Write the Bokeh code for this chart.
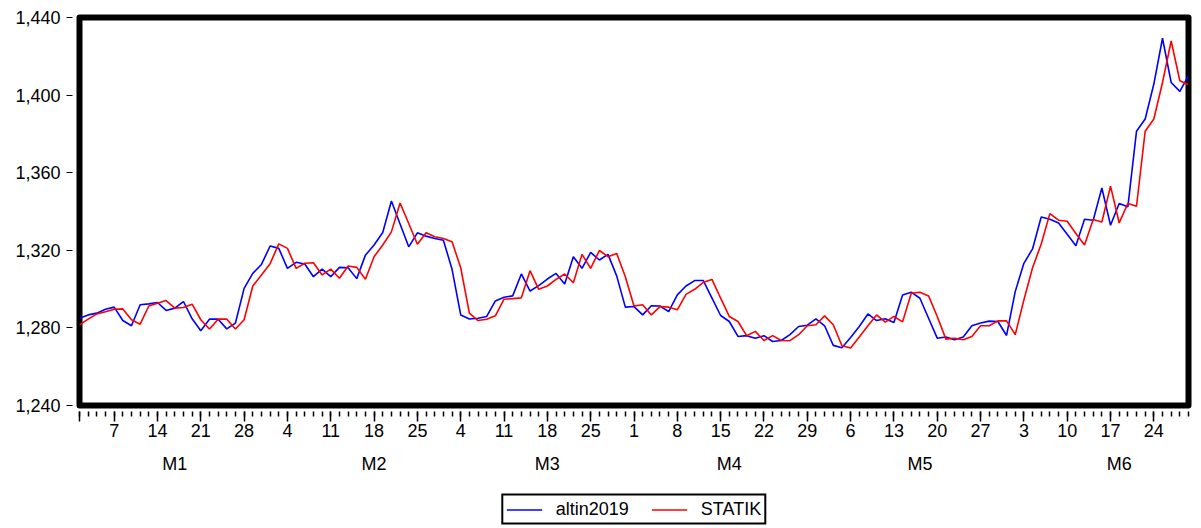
import pandas as pd
from bokeh.plotting import figure
from bokeh.layouts import column
from bokeh.models import (Range1d, FixedTicker, LinearAxis, NumeralTickFormatter,
                          Legend, LegendItem)
from bokeh.embed import file_html
from bokeh.resources import INLINE

# ---------------- data ----------------
dates = pd.bdate_range("2019-01-01", "2019-06-28")

altin2019 = [1285.0, 1286.7, 1287.6, 1289.6, 1290.7, 1283.8, 1281.1, 1291.9, 1292.4, 1293.1,
             1289.0, 1290.2, 1293.6, 1284.7, 1278.5, 1284.5, 1284.5, 1279.5, 1282.5, 1300.4,
             1308.1, 1312.7, 1322.2, 1321.0, 1310.7, 1313.8, 1312.9, 1306.4, 1310.3, 1306.4,
             1311.2, 1311.0, 1305.4, 1317.5, 1322.7, 1329.2, 1345.4, 1333.6, 1321.8, 1329.0,
             1327.3, 1326.1, 1325.2, 1310.2, 1286.7, 1284.6, 1285.0, 1285.9, 1293.9, 1295.8,
             1296.5, 1307.8, 1299.0, 1301.8, 1305.2, 1308.1, 1302.6, 1316.7, 1310.7, 1318.9,
             1315.0, 1317.9, 1306.8, 1290.7, 1291.0, 1286.7, 1291.4, 1291.3, 1288.4, 1297.0,
             1301.6, 1304.4, 1304.4, 1295.3, 1286.4, 1283.3, 1275.6, 1276.0, 1274.7, 1276.0,
             1273.0, 1273.5, 1276.5, 1280.7, 1281.4, 1284.7, 1281.1, 1271.0, 1269.8, 1275.0,
             1280.7, 1287.2, 1283.8, 1284.7, 1282.8, 1297.0, 1298.4, 1295.3, 1285.0, 1274.7,
             1275.3, 1273.9, 1275.3, 1281.1, 1282.5, 1283.5, 1283.3, 1276.1, 1298.7, 1313.3,
             1320.7, 1337.2, 1336.0, 1334.1, 1328.3, 1322.3, 1336.0, 1335.5, 1352.1, 1332.9,
             1344.1, 1342.4, 1381.4, 1387.7, 1405.7, 1429.3, 1406.5, 1401.9, 1410.0]

statik = [1281.6, 1284.5, 1287.2, 1288.3, 1289.6, 1289.8, 1284.2, 1281.9, 1291.3, 1292.7,
          1294.1, 1290.2, 1290.5, 1292.2, 1284.2, 1279.4, 1284.5, 1284.5, 1279.4, 1284.2,
          1301.6, 1307.3, 1313.1, 1323.3, 1321.0, 1310.7, 1313.3, 1313.6, 1307.3, 1310.3,
          1305.6, 1311.9, 1311.2, 1305.1, 1316.7, 1322.7, 1329.5, 1344.4, 1333.8, 1323.1,
          1329.0, 1327.0, 1326.1, 1324.4, 1311.0, 1287.6, 1283.8, 1284.5, 1286.2, 1294.8,
          1295.1, 1295.5, 1309.5, 1299.9, 1301.6, 1305.0, 1307.8, 1303.3, 1317.9, 1310.7,
          1319.9, 1316.7, 1318.4, 1306.4, 1291.3, 1291.9, 1286.7, 1291.0, 1290.7, 1289.3,
          1297.3, 1299.9, 1303.5, 1305.0, 1295.3, 1285.9, 1283.3, 1276.0, 1278.2, 1273.5,
          1276.0, 1273.5, 1273.4, 1276.5, 1281.1, 1281.6, 1286.2, 1281.6, 1270.8, 1269.6,
          1275.3, 1281.1, 1286.7, 1283.0, 1285.9, 1283.1, 1297.9, 1298.4, 1296.5, 1285.9,
          1274.2, 1274.7, 1273.9, 1275.6, 1281.1, 1281.1, 1283.6, 1283.6, 1276.5, 1294.4,
          1311.0, 1323.2, 1338.9, 1335.5, 1335.0, 1328.7, 1322.7, 1335.9, 1334.6, 1353.1,
          1334.1, 1344.1, 1342.7, 1381.4, 1387.7, 1406.5, 1427.9, 1407.4, 1405.3]

series_names = ["altin2019", "STATIK"]
series_colors = ["#0000FF", "#FF0000"]
y_ticks = [1240, 1280, 1320, 1360, 1400, 1440]
month_labels = ["M1", "M2", "M3", "M4", "M5", "M6"]
month_label_pos = [11, 34, 54, 75, 97, 120]

x = list(range(len(dates)))
monday_idx = [i for i, d in enumerate(dates) if d.dayofweek == 0]
day_labels = {i: str(dates[i].day) for i in monday_idx}

FONT = "Liberation Sans"
FS = "18px"

p = figure(width=1201, height=490, output_backend="svg", toolbar_location=None,
           x_range=Range1d(0, len(x) - 1), y_range=Range1d(1240, 1440),
           min_border_left=79, min_border_right=13, min_border_top=17,
           min_border_bottom=85)
p.background_fill_color = "white"
p.border_fill_color = "white"
p.outline_line_color = "black"
p.outline_line_width = 6
p.outline_line_join = "round"
p.xgrid.visible = False
p.ygrid.visible = False

p.line(x, altin2019, line_color=series_colors[0], line_width=1.6)
p.line(x, statik, line_color=series_colors[1], line_width=1.6)

# y axis
yax = p.yaxis[0]
yax.ticker = FixedTicker(ticks=y_ticks)
yax.formatter = NumeralTickFormatter(format="0,0")
yax.axis_line_color = None
yax.major_tick_in = -7
yax.major_tick_out = 13
yax.major_tick_line_width = 1
yax.minor_tick_line_color = None
yax.major_label_standoff = 6
yax.major_label_text_font = FONT
yax.major_label_text_font_size = FS
yax.major_label_text_color = "black"

# x axis (days)
xax = p.xaxis[0]
xax.ticker = FixedTicker(ticks=[0] + monday_idx, minor_ticks=x)
overrides = {0: ""}
overrides.update(day_labels)
xax.major_label_overrides = overrides
xax.axis_line_color = None
xax.major_tick_in = -6
xax.major_tick_out = 16
xax.minor_tick_in = -6
xax.minor_tick_out = 11
xax.major_tick_line_width = 1.5
xax.minor_tick_line_width = 1.5
xax.major_label_standoff = 2
xax.major_label_text_font = FONT
xax.major_label_text_font_size = FS
xax.major_label_text_color = "black"

# x axis (months)
max2 = LinearAxis(ticker=FixedTicker(ticks=month_label_pos))
max2.major_label_overrides = {pos: lab for pos, lab in zip(month_label_pos, month_labels)}
max2.axis_line_color = None
max2.major_tick_line_color = None
max2.minor_tick_line_color = None
max2.major_tick_in = 0
max2.major_tick_out = 0
max2.major_label_standoff = 14
max2.major_label_text_font = FONT
max2.major_label_text_font_size = FS
max2.major_label_text_color = "black"
p.add_layout(max2, "below")

# legend strip
lf = figure(width=1201, height=38, output_backend="svg", toolbar_location=None,
            x_axis_type=None, y_axis_type=None, min_border=0,
            x_range=Range1d(0, 1), y_range=Range1d(0, 1))
lf.outline_line_color = None
lf.background_fill_color = "white"
lf.border_fill_color = "white"
lf.xgrid.visible = False
lf.ygrid.visible = False
items = []
for name, col in zip(series_names, series_colors):
    # legend sample only: the source lies outside the strip's view
    r = lf.line([-5, -4], [-5, -4], line_color=col, line_width=1.6)
    items.append(LegendItem(label=name, renderers=[r]))

legend = Legend(items=items, orientation="horizontal", location="center")
legend.margin = 0
legend.border_line_color = "black"
legend.border_line_alpha = 1
legend.border_line_width = 2.5
legend.background_fill_color = "white"
legend.background_fill_alpha = 1
legend.padding = 3
legend.glyph_width = 36
legend.glyph_height = 18
legend.label_height = 18
legend.label_standoff = 14
legend.spacing = 22
legend.label_text_font = FONT
legend.label_text_font_size = FS
legend.label_text_color = "black"
lf.add_layout(legend, "center")

open("out.html", "w").write(file_html(column(p, lf, spacing=0), INLINE))
